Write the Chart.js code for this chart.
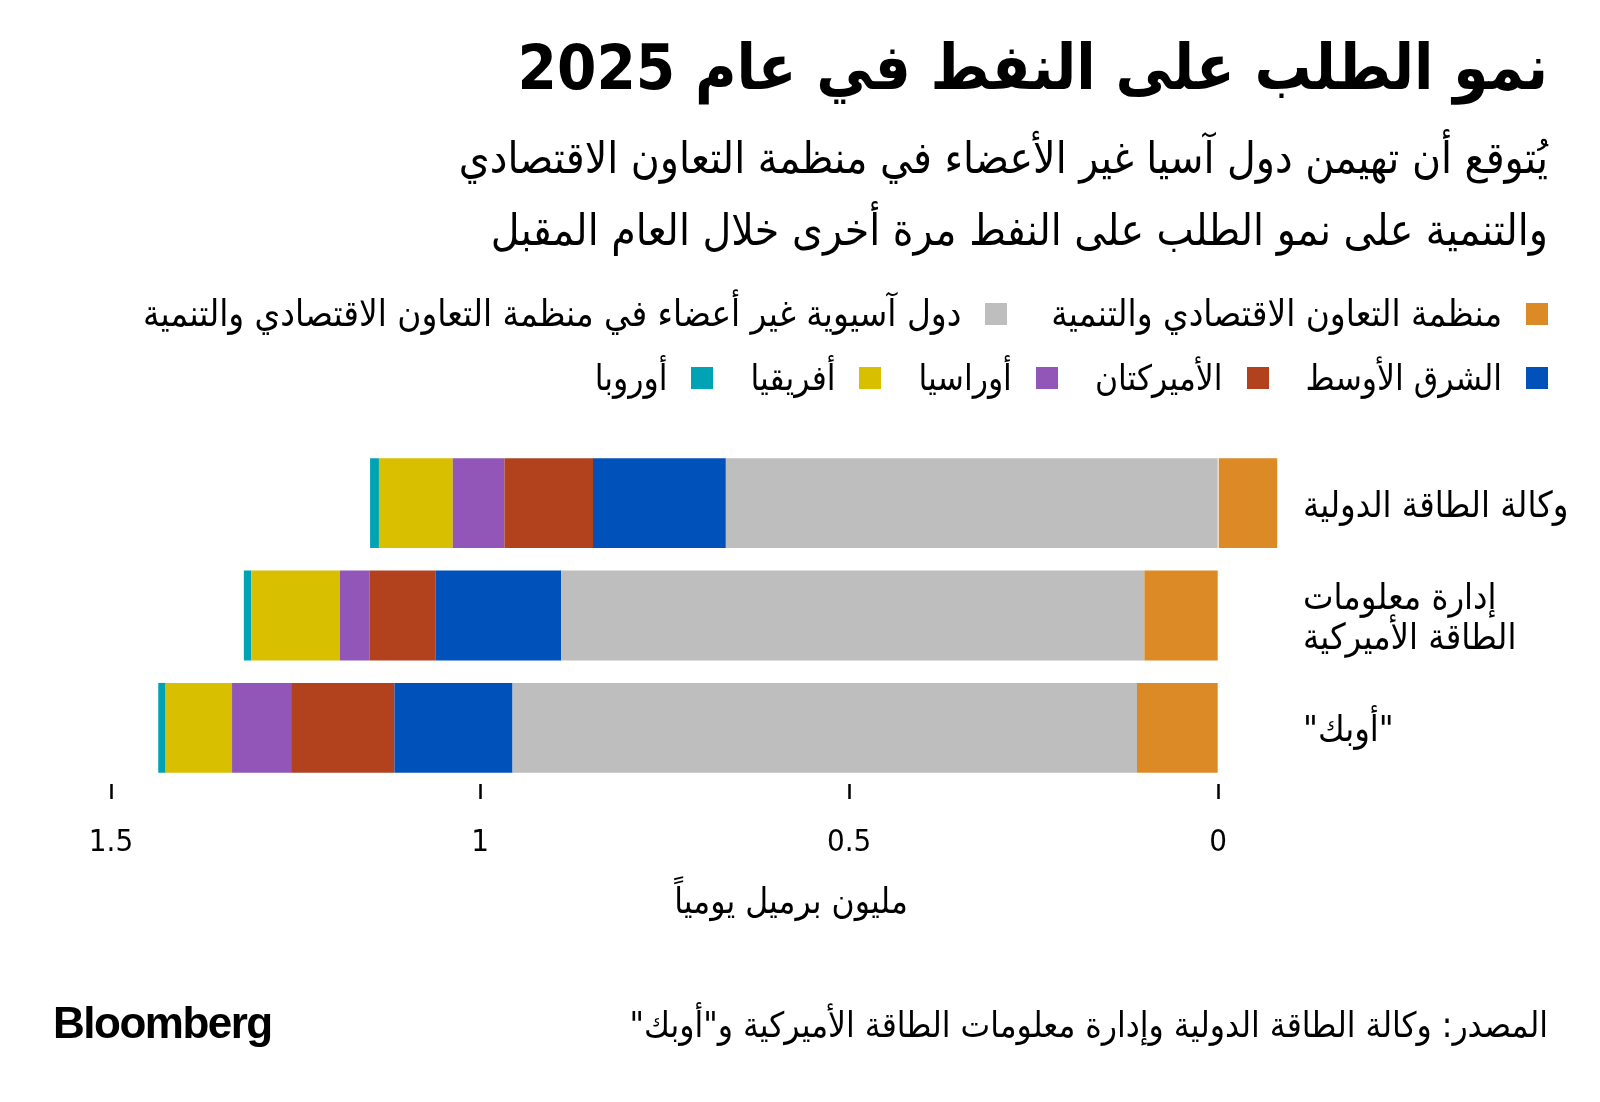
<!DOCTYPE html>
<html lang="ar">
<head>
<meta charset="utf-8">
<script src="https://cdn.jsdelivr.net/npm/chart.js@4/dist/chart.umd.min.js"></script>
<style>
  html, body { margin: 0; padding: 0; background: #fff; }
  #wrap { position: relative; width: 1600px; height: 1102px; overflow: hidden; background: #fff; }
  #chart { position: absolute; left: 0; top: 0; }
  .t { position: absolute; color: #000; white-space: nowrap; font-family: 'DejaVu Sans Condensed', 'DejaVu Sans', sans-serif; }
  #title { right: 52px; top: 28px; font-size: 63px; line-height: 80px; font-weight: bold; direction: rtl; }
  #subtitle { right: 52px; top: 122px; font-size: 44px; line-height: 72px; direction: rtl; text-align: right; }
  .legrow { position: absolute; right: 52px; display: flex; flex-direction: row; direction: rtl; align-items: center; font-family: 'DejaVu Sans Condensed', 'DejaVu Sans', sans-serif; line-height: 40px; white-space: nowrap; color: #000; }
  .legitem { display: flex; align-items: center; direction: rtl; }
  .sw { width: 22px; height: 22px; display: inline-block; margin-left: 24px; }
  #leg1 { top: 294px; gap: 44px; font-size: 36.5px; }
  #leg2 { top: 358px; gap: 37px; font-size: 35px; }
  #xtitle { left: 591px; width: 400px; top: 881px; text-align: center; font-size: 35px; line-height: 40px; direction: rtl; }
  #source { right: 52px; top: 1005px; font-size: 35px; line-height: 40px; direction: rtl; }
  #logo { left: 53px; top: 1001px; font-family: 'Liberation Sans', Arial, sans-serif; font-weight: bold; font-size: 44px; line-height: 44px; letter-spacing: -1.5px; direction: ltr; }
</style>
</head>
<body>
<div id="wrap">
  <canvas id="chart" width="1600" height="1102"></canvas>
  <div class="t" id="title">نمو الطلب على النفط في عام 2025</div>
  <div class="t" id="subtitle">يُتوقع أن تهيمن دول آسيا غير الأعضاء في منظمة التعاون الاقتصادي<br>والتنمية على نمو الطلب على النفط مرة أخرى خلال العام المقبل</div>
  <div class="legrow" id="leg1"></div>
  <div class="legrow" id="leg2"></div>
  <div class="t" id="xtitle">مليون برميل يومياً</div>
  <div class="t" id="source">المصدر: وكالة الطاقة الدولية وإدارة معلومات الطاقة الأميركية و"أوبك"</div>
  <div class="t" id="logo">Bloomberg</div>
</div>
<script>
// ---- data ----
const categories = [['وكالة الطاقة الدولية'], ['إدارة معلومات', 'الطاقة الأميركية'], ['"أوبك"']];
const seriesNames = [
  'منظمة التعاون الاقتصادي والتنمية',
  'دول آسيوية غير أعضاء في منظمة التعاون الاقتصادي والتنمية',
  'الشرق الأوسط',
  'الأميركتان',
  'أوراسيا',
  'أفريقيا',
  'أوروبا'
];
const seriesColors = ['#DB8A26', '#BEBEBE', '#0052BA', '#B2421E', '#9156B8', '#D8BF00', '#00A3B4'];
const oecd        = [-0.08, 0.10, 0.11];
const nonOecdAsia = [0.667, 0.79, 0.846];
const middleEast  = [0.18, 0.17, 0.16];
const americas    = [0.12, 0.09, 0.14];
const eurasia     = [0.07, 0.04, 0.08];
const africa      = [0.10, 0.12, 0.09];
const europe      = [0.012, 0.01, 0.01];
const xTickValues = [0, 0.5, 1, 1.5];
const xTickLabels = ['0', '0.5', '1', '1.5'];
const legendRows = [[0, 1], [2, 3, 4, 5, 6]];

const seriesValues = [oecd, nonOecdAsia, middleEast, americas, eurasia, africa, europe];
const FONT = "'DejaVu Sans Condensed', 'DejaVu Sans', sans-serif";

// legend (HTML)
legendRows.forEach((row, r) => {
  const el = document.getElementById(r === 0 ? 'leg1' : 'leg2');
  row.forEach(i => {
    const it = document.createElement('div');
    it.className = 'legitem';
    const sw = document.createElement('span');
    sw.className = 'sw';
    sw.style.background = seriesColors[i];
    const tx = document.createElement('span');
    tx.textContent = seriesNames[i];
    it.appendChild(sw);
    it.appendChild(tx);
    el.appendChild(it);
  });
});

const datasets = seriesValues.map((vals, i) => ({
  label: seriesNames[i],
  data: vals,
  backgroundColor: seriesColors[i],
  borderWidth: 0,
  barPercentage: 0.8,
  categoryPercentage: 1.0
}));

new Chart(document.getElementById('chart'), {
  type: 'bar',
  data: { labels: categories, datasets },
  options: {
    indexAxis: 'y',
    responsive: false,
    animation: false,
    devicePixelRatio: 1,
    layout: { padding: { top: 447, bottom: 218, left: 111, right: 0 } },
    plugins: { legend: { display: false }, tooltip: { enabled: false } },
    scales: {
      x: {
        stacked: true,
        reverse: true,
        min: -0.1,
        max: 1.5,
        afterBuildTicks: s => { s.ticks = xTickValues.map(v => ({ value: v })); },
        afterFit: s => { s.height = 100; },
        grid: { display: true, drawOnChartArea: false, drawTicks: true, tickLength: 15, tickWidth: 2.5, tickColor: '#000' },
        border: { display: false },
        ticks: {
          color: '#000',
          font: { family: FONT, size: 31 },
          padding: 25,
          maxRotation: 0,
          autoSkip: false,
          callback: (v) => xTickLabels[xTickValues.indexOf(v)]
        }
      },
      y: {
        stacked: true,
        position: 'right',
        afterFit: s => { s.width = 308; },
        grid: { display: false },
        border: { display: false },
        ticks: {
          color: '#000',
          font: { family: FONT, size: 36, lineHeight: 1.1 },
          padding: 3,
          labelOffset: 4,
          crossAlign: 'near'
        }
      }
    }
  }
});
</script>
</body>
</html>
